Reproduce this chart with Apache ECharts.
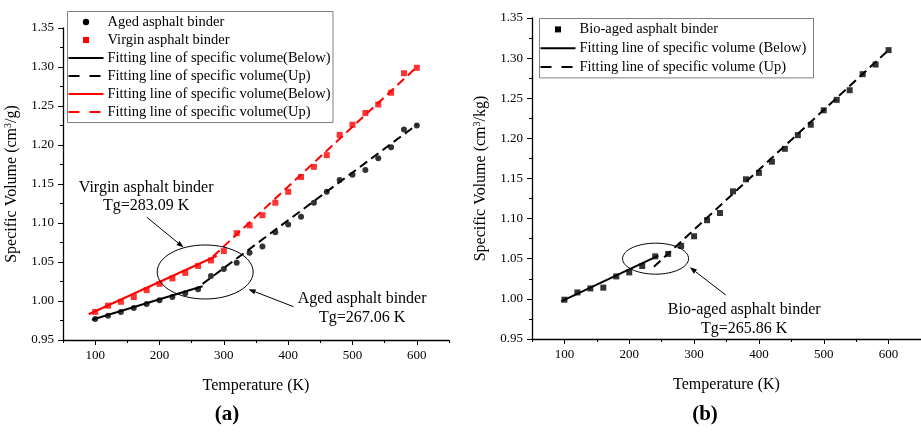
<!DOCTYPE html>
<html><head><meta charset="utf-8">
<script src="https://cdn.jsdelivr.net/npm/echarts@6/dist/echarts.min.js"></script>
<style>html,body{margin:0;padding:0;background:#fff}#c{width:921px;height:432px}</style>
</head><body><div id="c"></div>
<script>
// ---------- data ----------
const temperatures = [100,120,140,160,180,200,220,240,260,280,300,320,340,360,380,400,420,440,460,480,500,520,540,560,580,600];
const agedVolume   = [0.977,0.981,0.986,0.991,0.996,1.001,1.005,1.010,1.015,1.032,1.041,1.049,1.062,1.070,1.088,1.098,1.108,1.126,1.140,1.155,1.162,1.168,1.183,1.197,1.220,1.225];
const virginVolume = [0.986,0.994,0.999,1.005,1.014,1.022,1.029,1.036,1.045,1.052,1.064,1.087,1.097,1.110,1.126,1.140,1.159,1.172,1.187,1.213,1.226,1.241,1.252,1.267,1.292,1.299];
const bioVolume    = [0.999,1.008,1.013,1.014,1.028,1.033,1.041,1.053,1.056,1.066,1.078,1.098,1.107,1.134,1.149,1.157,1.171,1.187,1.204,1.217,1.235,1.248,1.260,1.280,1.292,1.310];
// fitting line end points [T, V]
const agedFitBelow   = [[95,0.976],[267,1.019]];
const agedFitUp      = [[267,1.022],[600,1.226]];
const virginFitBelow = [[90,0.983],[289,1.058]];
const virginFitUp    = [[283,1.057],[600,1.300]];
const bioFitBelow    = [[95,0.997],[245,1.054]];
const bioFitUp       = [[238,1.040],[600,1.310]];
const xLabelValues = [100,200,300,400,500,600];
const legendA = ['Aged asphalt binder','Virgin asphalt binder','Fitting line of specific volume(Below)','Fitting line of specific volume(Up)','Fitting line of specific volume(Below)','Fitting line of specific volume(Up)'];
const legendB = ['Bio-aged asphalt binder','Fitting line of specific volume (Below)','Fitting line of specific volume (Up)'];

// ---------- chart ----------
const FONT = 'Liberation Serif';
const chart = echarts.init(document.getElementById('c'));
const zip = (xs, ys) => xs.map((x, i) => [x, ys[i]]);

function mainX(grid) {
  return {
    type: 'value', gridIndex: grid, position: 'bottom', offset: 0, min: 50, max: 650, interval: 50,
    name: 'Temperature (K)', nameLocation: 'middle', nameGap: 38,
    nameTextStyle: {fontFamily: FONT, fontSize: 16, color: '#000'},
    axisLine: {show: true, onZero: false, lineStyle: {color: '#000', width: 1.3}},
    axisTick: {show: true, customValues: xLabelValues, length: 5, lineStyle: {color: '#000'}},
    axisLabel: {show: true, customValues: xLabelValues, margin: 9, fontFamily: FONT, fontSize: 13, color: '#000'},
    splitLine: {show: false}
  };
}
function minorX(grid) {
  return {
    type: 'value', gridIndex: grid, position: 'bottom', offset: 0, min: 50, max: 650, interval: 100,
    axisLine: {show: false, onZero: false}, axisLabel: {show: false}, splitLine: {show: false},
    axisTick: {show: true, length: 3, lineStyle: {color: '#000'}}
  };
}
function mainY(grid, unit) {
  return {
    type: 'value', gridIndex: grid, position: 'left', min: 0.95, max: 1.35, interval: 0.05,
    name: 'Specific Volume (cm{sup|3}/' + unit + ')', nameLocation: 'middle', nameGap: 42,
    nameTextStyle: {fontFamily: FONT, fontSize: 16, color: '#000', lineHeight: 18,
      rich: {sup: {fontFamily: FONT, fontSize: 10, color: '#000', verticalAlign: 'top', lineHeight: 10}}},
    axisLine: {show: true, onZero: false, lineStyle: {color: '#000', width: 1.3}},
    axisTick: {show: true, length: 5, lineStyle: {color: '#000'}},
    minorTick: {show: true, splitNumber: 2, length: 3, lineStyle: {color: '#000'}},
    axisLabel: {margin: 9, fontFamily: FONT, fontSize: 13, color: '#000', formatter: v => v.toFixed(2)},
    splitLine: {show: false}, minorSplitLine: {show: false}
  };
}
function scatter(name, xi, data, symbol, color) {
  return {name, type: 'scatter', xAxisIndex: xi, yAxisIndex: xi, data, symbol, symbolSize: 6,
    itemStyle: {color}, z: 3};
}
function fit(name, xi, data, color, dashed) {
  return {name, type: 'line', xAxisIndex: xi, yAxisIndex: xi, data, symbol: 'none', showSymbol: false,
    color, lineStyle: {color, width: 2, type: dashed ? [9, 5] : 'solid'}, z: 4, silent: true};
}

chart.setOption({
  animation: false,
  backgroundColor: '#fff',
  grid: [
    {left: 63, top: 28, width: 386, height: 312},
    {left: 532, top: 18, width: 396, height: 321}
  ],
  xAxis: [mainX(0), mainX(1), minorX(0), minorX(1)],
  yAxis: [mainY(0, 'g'), mainY(1, 'kg')],
  series: [
    scatter(legendA[0], 0, zip(temperatures, agedVolume), 'circle', '#000'),
    scatter(legendA[1], 0, zip(temperatures, virginVolume), 'rect', '#ff0000'),
    fit(legendA[2], 0, agedFitBelow, '#000', false),
    fit(legendA[3], 0, agedFitUp, '#000', true),
    fit(legendA[4], 0, virginFitBelow, '#ff0000', false),
    fit(legendA[5], 0, virginFitUp, '#ff0000', true),
    scatter(legendB[0], 1, zip(temperatures, bioVolume), 'rect', '#000'),
    fit(legendB[1], 1, bioFitBelow, '#000', false),
    fit(legendB[2], 1, bioFitUp, '#000', true)
  ]
});

// ---------- annotations (anchored in data coordinates) ----------
const px = (g, p) => chart.convertToPixel({gridIndex: g}, p);
const g = [];
function ellipse(grid, c, rx, ry) {
  const p = px(grid, c);
  g.push({type: 'ellipse', shape: {cx: p[0], cy: p[1], rx, ry}, style: {fill: 'none', stroke: '#000', lineWidth: 1}, z: 10});
}
function arrow(grid, from, to) {
  const a = px(grid, from), b = px(grid, to);
  const ang = Math.atan2(b[1] - a[1], b[0] - a[0]);
  const L = 7, W = 2.6;
  const bx = b[0] - L * Math.cos(ang), by = b[1] - L * Math.sin(ang);
  g.push({type: 'line', shape: {x1: a[0], y1: a[1], x2: bx, y2: by}, style: {stroke: '#000', lineWidth: 1}, z: 10});
  g.push({type: 'polygon', shape: {points: [b,
    [bx + W * Math.sin(ang), by - W * Math.cos(ang)],
    [bx - W * Math.sin(ang), by + W * Math.cos(ang)]]}, style: {fill: '#000'}, z: 10});
}
function label(grid, at, text) {
  const p = px(grid, at);
  g.push({type: 'text', x: p[0], y: p[1], style: {text, fontFamily: FONT, fontSize: 16, fill: '#000', align: 'center', verticalAlign: 'middle'}, z: 10});
}
ellipse(0, [271, 1.0372], 48, 27);
arrow(0, [180.4, 1.1073], [237.3, 1.0688]);
label(0, [179.3, 1.1449], 'Virgin asphalt binder');
label(0, [179.3, 1.1218], 'Tg=283.09 K');
arrow(0, [408.3, 0.9927], [338.4, 1.015]);
label(0, [514.9, 1.0026], 'Aged asphalt binder');
label(0, [514.9, 0.9782], 'Tg=267.06 K');

ellipse(1, [240.6, 1.0501], 33, 15.5);
arrow(1, [348.9, 1.0048], [293.5, 1.0393]);
label(1, [377.3, 0.9861], 'Bio-aged asphalt binder');
label(1, [377.3, 0.9633], 'Tg=265.86 K');

// ---------- legends (boxed key, drawn as graphics) ----------
function legendBox(x, y, w, rows, step, names, kinds) {
  g.push({type: 'rect', shape: {x, y, width: w, height: rows * step + 3}, style: {fill: '#fff', stroke: '#808080', lineWidth: 1}, z: 20});
  names.forEach((name, i) => {
    const cy = y + 1.5 + step * (i + 0.5);
    const k = kinds[i];
    const x0 = x + 1, x1 = x + 36, cx = (x0 + x1) / 2;
    if (k.type === 'circle') {
      g.push({type: 'circle', shape: {cx, cy, r: 3.2}, style: {fill: k.color}, z: 21});
    } else if (k.type === 'rect') {
      g.push({type: 'rect', shape: {x: cx - 3, y: cy - 3, width: 6, height: 6}, style: {fill: k.color}, z: 21});
    } else {
      g.push({type: 'line', shape: {x1: x0, y1: cy, x2: x1, y2: cy},
        style: {stroke: k.color, lineWidth: 2, lineDash: k.type === 'dash' ? [11, 10] : null}, z: 21});
    }
    g.push({type: 'text', x: x + 40, y: cy, style: {text: name, fontFamily: FONT, fontSize: 14.5, fill: '#000', align: 'left', verticalAlign: 'middle'}, z: 21});
  });
}
legendBox(67.5, 11.5, 265.5, 6, 18, legendA, [
  {type: 'circle', color: '#000'}, {type: 'rect', color: '#ff0000'},
  {type: 'solid', color: '#000'}, {type: 'dash', color: '#000'},
  {type: 'solid', color: '#ff0000'}, {type: 'dash', color: '#ff0000'}]);
legendBox(539.5, 18.5, 274, 3, 18.8, legendB, [
  {type: 'rect', color: '#000'}, {type: 'solid', color: '#000'}, {type: 'dash', color: '#000'}]);

g.push({type: 'text', x: 227, y: 415, style: {text: '(a)', fontFamily: FONT, fontSize: 21, fontWeight: 'bold', fill: '#000', align: 'center', verticalAlign: 'middle'}});
g.push({type: 'text', x: 705, y: 415, style: {text: '(b)', fontFamily: FONT, fontSize: 21, fontWeight: 'bold', fill: '#000', align: 'center', verticalAlign: 'middle'}});
chart.setOption({graphic: g});
</script>
</body></html>
